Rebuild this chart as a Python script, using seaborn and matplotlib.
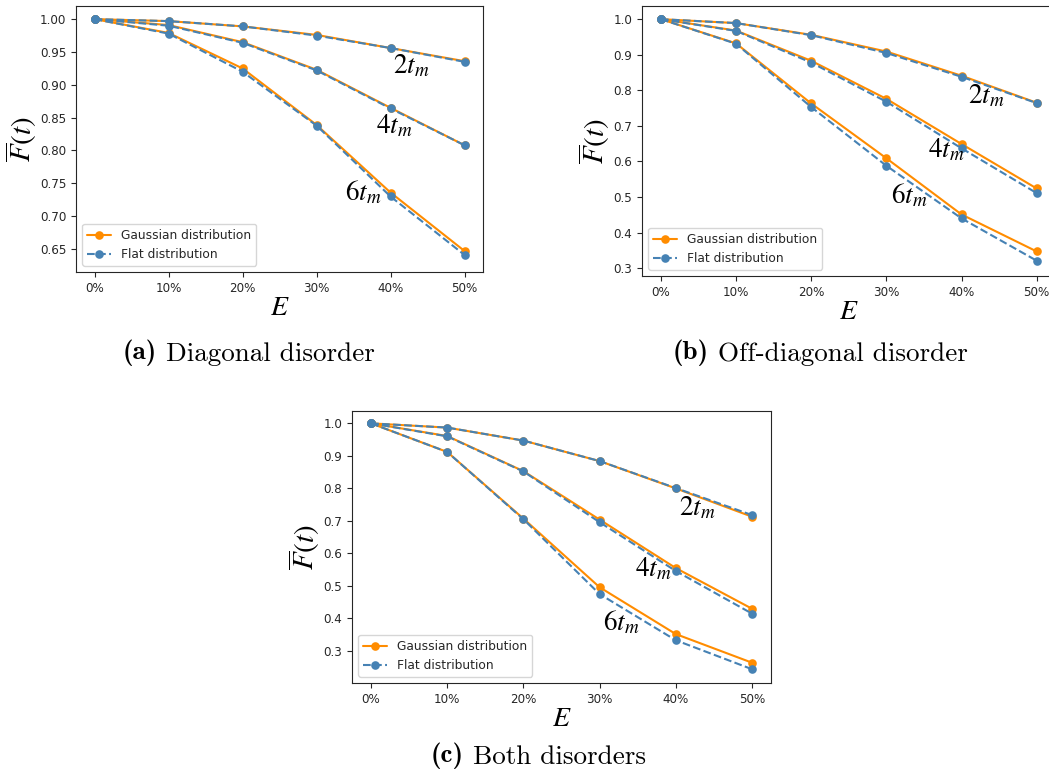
import matplotlib
matplotlib.use("Agg")
import matplotlib.pyplot as plt
import numpy as np
import pandas as pd
import seaborn as sns

# Disorder strength levels on the x axis
levels = ["0%", "10%", "20%", "30%", "40%", "50%"]
times = ["2t_m", "4t_m", "6t_m"]

# (a) Diagonal disorder
diag_2tm_gauss = [1.000, 0.997, 0.989, 0.976, 0.956, 0.936]
diag_2tm_flat = [1.000, 0.997, 0.989, 0.975, 0.956, 0.935]
diag_4tm_gauss = [1.000, 0.991, 0.965, 0.923, 0.865, 0.808]
diag_4tm_flat = [1.000, 0.990, 0.964, 0.922, 0.864, 0.808]
diag_6tm_gauss = [1.000, 0.979, 0.925, 0.839, 0.736, 0.647]
diag_6tm_flat = [1.000, 0.978, 0.920, 0.838, 0.730, 0.641]

# (b) Off-diagonal disorder
off_2tm_gauss = [1.000, 0.989, 0.956, 0.909, 0.841, 0.765]
off_2tm_flat = [1.000, 0.989, 0.955, 0.905, 0.838, 0.764]
off_4tm_gauss = [1.000, 0.968, 0.883, 0.776, 0.649, 0.524]
off_4tm_flat = [1.000, 0.967, 0.878, 0.768, 0.637, 0.511]
off_6tm_gauss = [1.000, 0.932, 0.763, 0.609, 0.451, 0.347]
off_6tm_flat = [1.000, 0.931, 0.753, 0.588, 0.440, 0.321]

# (c) Both disorders
both_2tm_gauss = [1.000, 0.987, 0.947, 0.884, 0.800, 0.713]
both_2tm_flat = [1.000, 0.987, 0.947, 0.884, 0.801, 0.718]
both_4tm_gauss = [1.000, 0.961, 0.853, 0.704, 0.555, 0.430]
both_4tm_flat = [1.000, 0.960, 0.852, 0.696, 0.546, 0.415]
both_6tm_gauss = [1.000, 0.912, 0.707, 0.496, 0.352, 0.264]
both_6tm_flat = [1.000, 0.912, 0.705, 0.475, 0.333, 0.244]

GAUSS_COLOR = "#ff8c00"
FLAT_COLOR = "#4682b4"

sns.set_style("ticks", {"axes.edgecolor": "0.15", "xtick.color": "0.15", "ytick.color": "0.15"})
plt.rcParams["font.family"] = ["DejaVu Sans"]
plt.rcParams["mathtext.fontset"] = "stix"

W, H = 1049, 775
fig = plt.figure(figsize=(W / 100, H / 100), dpi=100)


def px_axes(left, top, right, bottom):
    return fig.add_axes([left / W, 1 - bottom / H, (right - left) / W, (bottom - top) / H])


def build_frame(gauss_curves, flat_curves):
    rows = []
    for t, g, f in zip(times, gauss_curves, flat_curves):
        for i, (vg, vf) in enumerate(zip(g, f)):
            rows.append({"E": i, "F": vg, "dist": "Gaussian distribution", "t": t})
            rows.append({"E": i, "F": vf, "dist": "Flat distribution", "t": t})
    return pd.DataFrame(rows)


def draw_panel(ax, df, ylim, labels_at):
    for dist, color, ls in [("Gaussian distribution", GAUSS_COLOR, "-"),
                            ("Flat distribution", FLAT_COLOR, "--")]:
        for k, t in enumerate(times):
            sub = df[(df["dist"] == dist) & (df["t"] == t)]
            sns.lineplot(data=sub, x="E", y="F", ax=ax, color=color, linestyle=ls,
                         marker="o", markersize=6.2, markeredgewidth=0, linewidth=1.5,
                         label=dist if k == 0 else None, legend=False)
    ax.set_xticks(range(len(levels)))
    ax.set_xticklabels(levels)
    ax.set_xlim(-0.25, len(levels) - 0.75)
    ax.set_ylim(*ylim)
    ax.tick_params(labelsize=8.6, length=3.5, width=0.8)
    for s in ax.spines.values():
        s.set_linewidth(0.8)
        s.set_visible(True)
    ax.set_xlabel("$E$", fontsize=20, labelpad=-1, color="black")
    ax.set_ylabel(r"$\overline{F}(t)$", fontsize=21, labelpad=1, color="black")
    for t, (x, y) in zip(times, labels_at):
        ax.text(x, y, f"${t}$", fontsize=19.5, ha="left", va="baseline", color="black")
    ax.legend(loc="lower left", fontsize=8.8, frameon=True)


ax_a = px_axes(76, 6, 483, 272)
df_a = build_frame([diag_2tm_gauss, diag_4tm_gauss, diag_6tm_gauss],
                   [diag_2tm_flat, diag_4tm_flat, diag_6tm_flat])
draw_panel(ax_a, df_a, (0.615, 1.020), [(4.04, 0.918), (3.81, 0.826), (3.39, 0.7245)])

ax_b = px_axes(642, 6, 1055.5, 276)
df_b = build_frame([off_2tm_gauss, off_4tm_gauss, off_6tm_gauss],
                   [off_2tm_flat, off_4tm_flat, off_6tm_flat])
draw_panel(ax_b, df_b, (0.278, 1.037), [(4.08, 0.762), (3.56, 0.612), (3.06, 0.483)])

ax_c = px_axes(352, 411, 771, 683)
df_c = build_frame([both_2tm_gauss, both_4tm_gauss, both_6tm_gauss],
                   [both_2tm_flat, both_4tm_flat, both_6tm_flat])
draw_panel(ax_c, df_c, (0.2015, 1.038), [(4.04, 0.718), (3.47, 0.528), (3.04, 0.364)])

# Sub-figure captions: bold tag followed by the title in Computer Modern
captions = [
    (123, 349, "(a)", "Diagonal disorder"),
    (673, 349, "(b)", "Off-diagonal disorder"),
    (431, 752, "(c)", "Both disorders"),
]
for x, y, tag, title in captions:
    t1 = fig.text(x / W, 1 - y / H, tag, fontsize=19.5, family="cmb10",
                  ha="left", va="center_baseline", color="black")
    plt.annotate(" " + title, xy=(1, 0), xycoords=t1, fontsize=19.5, family="cmr10",
                 ha="left", va="bottom", annotation_clip=False, color="black")

fig.savefig("out.png", dpi=100)
